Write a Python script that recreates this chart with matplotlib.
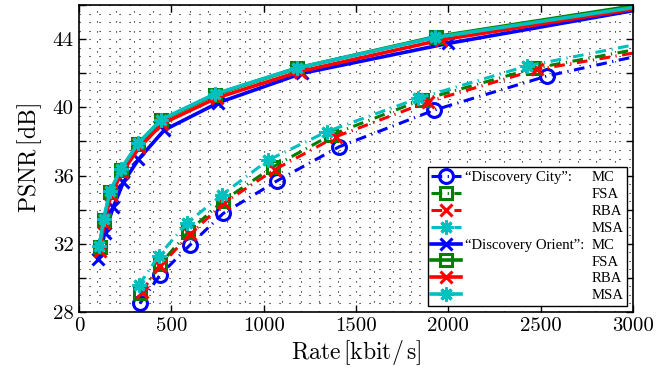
import matplotlib
matplotlib.use("Agg")
import matplotlib.pyplot as plt
from matplotlib.ticker import MultipleLocator, FuncFormatter

# ---------------- data ----------------
# "Discovery City" (dash-dot)
city_mc_rate = [330, 439, 601, 781, 1074, 1409, 1924, 2532, 3200]
city_mc_psnr = [28.5, 30.17, 31.93, 33.78, 35.7, 37.69, 39.84, 41.83, 43.43]
city_fsa_rate = [333, 439, 592, 781, 1052, 1363, 1855, 2460, 3200]
city_fsa_psnr = [29.1, 30.8, 32.71, 34.52, 36.52, 38.37, 40.43, 42.28, 43.76]
city_rba_rate = [339, 441, 601, 785, 1060, 1391, 1891, 2481, 3200]
city_rba_psnr = [29.2, 30.72, 32.55, 34.4, 36.35, 38.28, 40.33, 42.22, 43.55]
city_msa_rate = [325, 432, 583, 773, 1025, 1341, 1837, 2424, 3200]
city_msa_psnr = [29.58, 31.3, 33.2, 34.86, 36.91, 38.57, 40.53, 42.42, 44.08]

# "Discovery Orient" (solid)
ori_mc_rate = [105, 140, 186, 240, 322, 462, 754, 1206, 2000, 3200]
ori_mc_psnr = [31.12, 32.65, 34.17, 35.6, 36.95, 38.67, 40.27, 41.99, 43.75, 46.05]
ori_fsa_rate = [112, 134, 170, 229, 322, 446, 737, 1180, 1935, 3200]
ori_fsa_psnr = [31.8, 33.4, 35.05, 36.35, 37.85, 39.25, 40.75, 42.3, 44.15, 46.28]
ori_rba_rate = [113, 136, 173, 233, 327, 452, 745, 1195, 1960, 3200]
ori_rba_psnr = [31.6, 33.2, 34.85, 36.2, 37.65, 39.05, 40.55, 42.1, 43.95, 46.1]
ori_msa_rate = [111, 133, 169, 228, 321, 445, 735, 1178, 1930, 3200]
ori_msa_psnr = [31.85, 33.45, 35.1, 36.4, 37.9, 39.28, 40.78, 42.3, 44.1, 46.18]

methods = ["MC", "FSA", "RBA", "MSA"]
x_ticks = [0, 500, 1000, 1500, 2000, 2500, 3000]

# ---------------- style ----------------
plt.rcParams["mathtext.fontset"] = "cm"
plt.rcParams["axes.unicode_minus"] = False

BLUE = (0, 0, 1)
GREEN = (0, 0.5, 0)
RED = (1, 0, 0)
CYAN = (0, 0.75, 0.75)
AST = (8, 2, 0)

fig = plt.figure(figsize=(6.57, 3.68), dpi=100)
ax = fig.add_axes([79 / 657, (368 - 312) / 368, 554 / 657, 307 / 368])

lw = 2.2
city_ls = (0, (3.5, 1.8, 0.4, 1.8))

city = [
    (city_mc_rate, city_mc_psnr, BLUE, "o", 10),
    (city_fsa_rate, city_fsa_psnr, GREEN, "s", 9),
    (city_rba_rate, city_rba_psnr, RED, "x", 9),
    (city_msa_rate, city_msa_psnr, CYAN, AST, 10),
]
orient = [
    (ori_mc_rate, ori_mc_psnr, BLUE, "x", 9),
    (ori_fsa_rate, ori_fsa_psnr, GREEN, "s", 9),
    (ori_rba_rate, ori_rba_psnr, RED, "x", 9),
    (ori_msa_rate, ori_msa_psnr, CYAN, AST, 10),
]

handles = []
for (r, p, c, m, ms) in city:
    h, = ax.plot(r, p, color=c, ls=city_ls, lw=lw, marker=m, ms=ms,
                 mew=2.2, mfc="none", mec=c)
    handles.append(h)
for (r, p, c, m, ms) in orient:
    h, = ax.plot(r, p, color=c, ls="-", lw=lw + 0.4, marker=m, ms=ms,
                 mew=2.2, mfc="none", mec=c)
    handles.append(h)

ax.set_xlim(0, 3000)
ax.set_ylim(28, 46)
ax.set_xticks(x_ticks)
ax.yaxis.set_major_locator(MultipleLocator(2))
ax.yaxis.set_major_formatter(FuncFormatter(lambda v, pos: f"{int(round(v))}" if int(round(v)) % 4 == 0 else ""))
ax.xaxis.set_minor_locator(MultipleLocator(100))
ax.yaxis.set_minor_locator(MultipleLocator(0.5))

ax.tick_params(which="major", direction="in", length=5, width=1, top=True, right=True,
               labelsize=15, pad=4)
ax.tick_params(which="minor", length=0, top=True, right=True)
for lab in ax.get_xticklabels() + ax.get_yticklabels():
    lab.set_fontfamily("cmr10")
ax.grid(True, which="both", color="black", lw=0.8, ls=(0, (1, 8)))
ax.set_axisbelow(True)
for s in ax.spines.values():
    s.set_linewidth(1.2)

ax.set_xlabel(r"Rate$\,[\mathrm{kbit/\,s}]$", fontsize=17, family="cmr10", labelpad=2)
ax.set_ylabel(r"PSNR$\,[\mathrm{dB}]$", fontsize=17, family="cmr10", labelpad=6)

labels = methods + methods
leg = ax.legend(handles, labels, loc="lower right", bbox_to_anchor=(0.990, 0.020),
                prop={"family": "Liberation Serif", "size": 10.6},
                handlelength=2.0, handletextpad=8.9, labelspacing=0.24,
                borderpad=0.25, borderaxespad=0.0, fancybox=False, framealpha=1,
                edgecolor="black")
leg.get_frame().set_linewidth(1.0)

fig.canvas.draw()
inv = fig.transFigure.inverted()
for idx, name in [(0, "\u201cDiscovery City\u201d:"), (4, "\u201cDiscovery Orient\u201d:")]:
    t = leg.get_texts()[idx]
    bb = t.get_window_extent()
    x0 = 465
    y_disp = (bb.y0 + bb.y1) / 2
    fx, fy = inv.transform((x0, y_disp))
    fig.text(fx, fy, name, family="Liberation Serif", size=10.6, va="center", ha="left")

fig.savefig("out.png", dpi=100)
